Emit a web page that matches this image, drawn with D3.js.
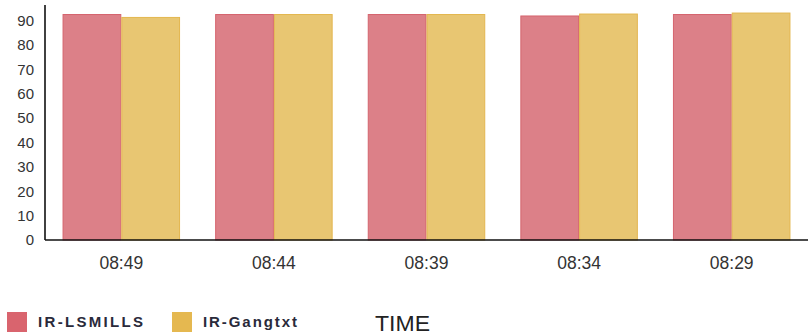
<!DOCTYPE html>
<html>
<head>
<meta charset="utf-8">
<script src="https://cdn.jsdelivr.net/npm/d3@7"></script>
<style>
  html, body { margin: 0; padding: 0; background: #fff; }
  svg { display: block; font-family: "Liberation Sans", Arial, sans-serif; }
</style>
</head>
<body>
<svg id="chart" width="808" height="336"></svg>
<script>
// Time slots along the x axis
const times = ["08:49", "08:44", "08:39", "08:34", "08:29"];
// Series names
const seriesNames = ["IR-LSMILLS", "IR-Gangtxt"];
// Series values per time slot
const lsmills = [92.7, 92.7, 92.7, 92.1, 92.7];
const gangtxt = [91.5, 92.7, 92.7, 92.9, 93.3];
// Y axis ticks
const yTicks = [0, 10, 20, 30, 40, 50, 60, 70, 80, 90];

const fills = ["#dc8088", "#e8c672"];
const strokes = ["#d5646e", "#e3b64f"];
const swatches = ["#d9646e", "#e5b850"];

const svg = d3.select("#chart");
const plotLeft = 45, plotRight = 808, plotTop = 5, plotBottom = 240;

const x = d3.scaleBand().domain(times).range([plotLeft, plotRight])
  .paddingInner(0.23).paddingOuter(0.115);
const x1 = d3.scaleBand().domain(seriesNames).range([0, x.bandwidth()]);
const y = d3.scaleLinear().domain([0, 96.4]).range([plotBottom, plotTop]);

const data = times.map((t, i) => ({ t, vals: [lsmills[i], gangtxt[i]] }));

// Bars
const groups = svg.append("g").selectAll("g").data(data).join("g")
  .attr("transform", d => `translate(${x(d.t)},0)`);
groups.selectAll("rect")
  .data(d => d.vals.map((v, k) => ({ v, k })))
  .join("rect")
  .attr("x", d => x1(seriesNames[d.k]) + 0.5)
  .attr("y", d => y(d.v) + 0.5)
  .attr("width", x1.bandwidth() - 1)
  .attr("height", d => plotBottom - y(d.v) - 0.5)
  .attr("fill", d => fills[d.k])
  .attr("stroke", d => strokes[d.k])
  .attr("stroke-width", 1);

// Y axis
const yAxis = svg.append("g").attr("transform", `translate(${plotLeft},0)`)
  .call(d3.axisLeft(y).tickValues(yTicks).tickSize(0).tickPadding(11));
yAxis.select(".domain").attr("stroke", "#111").attr("stroke-width", 1.6)
  .attr("d", `M0,${plotTop}V${plotBottom}`);
yAxis.selectAll("text").attr("font-size", 15).attr("fill", "#333")
  .attr("font-family", "Liberation Sans, Arial, sans-serif");

// X axis
const xAxis = svg.append("g").attr("transform", `translate(0,${plotBottom})`)
  .call(d3.axisBottom(x).tickSize(0).tickPadding(17));
xAxis.select(".domain").attr("stroke", "#111").attr("stroke-width", 1.6)
  .attr("d", `M${plotLeft},0H${plotRight}`);
xAxis.selectAll("text").attr("font-size", 17.5).attr("fill", "#333")
  .attr("font-family", "Liberation Sans, Arial, sans-serif");

// Legend
const legend = svg.append("g");
const legendX = [7, 172];
const legendW = [105, 94];
seriesNames.forEach((name, i) => {
  legend.append("rect")
    .attr("x", legendX[i]).attr("y", 312).attr("width", 20).attr("height", 20)
    .attr("fill", swatches[i]);
  legend.append("text")
    .attr("x", legendX[i] + 31).attr("y", 327)
    .attr("font-size", 15).attr("font-weight", "bold").attr("fill", "#2a2a3a")
    .attr("textLength", legendW[i]).attr("lengthAdjust", "spacing")
    .text(name);
});

// Axis title
svg.append("text")
  .attr("x", 375).attr("y", 331)
  .attr("font-size", 22).attr("fill", "#222")
  .attr("textLength", 55).attr("lengthAdjust", "spacingAndGlyphs")
  .text("TIME");
</script>
</body>
</html>
